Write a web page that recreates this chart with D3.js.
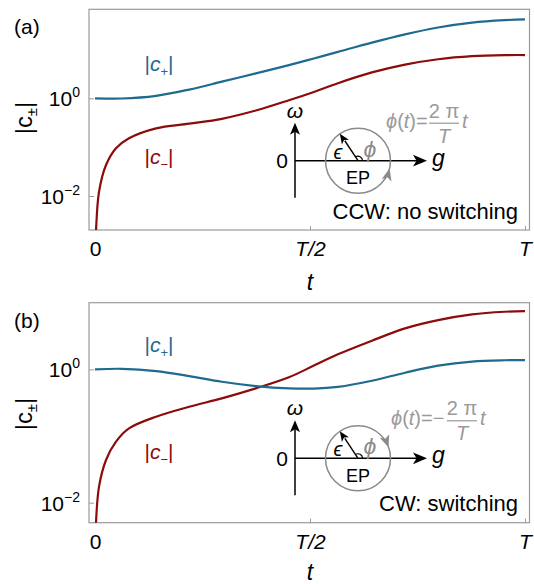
<!DOCTYPE html>
<html>
<head>
<meta charset="utf-8">
<script src="https://cdn.jsdelivr.net/npm/d3@7"></script>
<style>
  body { margin: 0; background: #fff; }
  svg text { font-family: "Liberation Sans", Arial, sans-serif; }
</style>
</head>
<body>
<script>
// t in units of T, values |c|
var tPlusA  = [0, 0.063, 0.142, 0.219, 0.295, 0.374, 0.451, 0.509, 0.565, 0.644, 0.721, 0.798, 0.877, 0.953, 1];
var cPlusA  = [1.0, 0.99, 1.12, 1.51, 2.19, 3.24, 4.79, 6.53, 8.91, 13.8, 20.4, 28.2, 35.5, 39.8, 41.2];
var tMinusA = [0.001, 0.0023, 0.0093, 0.0256, 0.0488, 0.079, 0.142, 0.219, 0.295, 0.374, 0.451, 0.509, 0.565, 0.644, 0.721, 0.798, 0.877, 0.953, 1];
var cMinusA = [0.0007, 0.0019, 0.0122, 0.0431, 0.0947, 0.152, 0.243, 0.302, 0.380, 0.562, 0.912, 1.35, 2.04, 3.39, 4.90, 6.31, 7.28, 7.66, 7.69];

var tPlusB  = [0, 0.063, 0.142, 0.219, 0.295, 0.374, 0.451, 0.509, 0.565, 0.644, 0.721, 0.798, 0.877, 0.953, 1];
var cPlusB  = [1.0, 1.02, 0.944, 0.794, 0.652, 0.562, 0.519, 0.515, 0.547, 0.676, 0.891, 1.135, 1.31, 1.37, 1.377];
var tMinusB = [0.001, 0.0023, 0.0093, 0.0256, 0.0488, 0.079, 0.142, 0.219, 0.295, 0.374, 0.451, 0.509, 0.565, 0.644, 0.721, 0.798, 0.877, 0.953, 1];
var cMinusB = [0.002, 0.0050, 0.0174, 0.0437, 0.0822, 0.130, 0.195, 0.275, 0.367, 0.519, 0.760, 1.14, 1.68, 2.69, 4.12, 5.48, 6.68, 7.31, 7.48];

var tTicks = [0, 0.5, 1];
var tTickLabels = ["0", "T/2", "T"];
var cTicks = [1, 0.01];
var cTickExp = ["0", "\u22122"];

var blue = "#1f6a8e", red = "#8c0b0b", gray = "#8a8a8a", frameCol = "#9a9a9a";

var svg = d3.select("body").append("svg")
  .attr("width", 534).attr("height", 584);

var defs = svg.append("defs");

function panel(o) {
  var x = d3.scaleLinear().domain([-0.014, 1.0105]).range([89, 529.5]);
  var y = d3.scaleLog().domain(o.ydom).range([o.bottom, o.top]);
  var g = svg.append("g");

  var clipId = "clip" + o.name;
  defs.append("clipPath").attr("id", clipId).append("rect")
    .attr("x", x.range()[0]).attr("y", o.top)
    .attr("width", x.range()[1] - x.range()[0]).attr("height", o.bottom - o.top);

  // frame
  g.append("rect")
    .attr("x", x.range()[0]).attr("y", o.top)
    .attr("width", x.range()[1] - x.range()[0]).attr("height", o.bottom - o.top)
    .attr("fill", "none").attr("stroke", frameCol).attr("stroke-width", 1.2);

  // bottom axis
  var xa = g.append("g").attr("transform", "translate(0," + o.bottom + ")")
    .call(d3.axisBottom(x).tickValues(tTicks).tickSizeInner(-4).tickSizeOuter(0)
      .tickFormat(function(d, i) { return tTickLabels[i]; }));
  xa.select(".domain").remove();
  xa.selectAll("line").attr("stroke", frameCol);
  xa.selectAll("text").attr("font-size", 21).attr("fill", "#000")
    .attr("font-style", function(d, i) { return i == 0 ? "normal" : "italic"; })
    .attr("y", 11).attr("dy", "0.71em");

  // left axis
  var ya = g.append("g").attr("transform", "translate(" + x.range()[0] + ",0)")
    .call(d3.axisLeft(y).tickValues(cTicks).tickSizeInner(-5).tickSizeOuter(0)
      .tickFormat(""));
  ya.select(".domain").remove();
  ya.selectAll("line").attr("stroke", frameCol);
  ya.selectAll(".tick").each(function(d, i) {
    var t = d3.select(this).append("text")
      .attr("x", -9).attr("dy", "0.36em").attr("text-anchor", "end")
      .attr("font-size", 21).attr("fill", "#000");
    t.append("tspan").text("10");
    t.append("tspan").attr("dy", -9).attr("font-size", 14).text(cTickExp[i]);
  });

  // curves
  var line = d3.line()
    .x(function(d) { return x(d[0]); })
    .y(function(d) { return y(d[1]); })
    .curve(d3.curveCatmullRom.alpha(0.5));
  var cg = g.append("g").attr("clip-path", "url(#" + clipId + ")");
  cg.append("path").datum(d3.zip(o.tMinus, o.cMinus))
    .attr("d", line).attr("fill", "none").attr("stroke", red).attr("stroke-width", 2.2);
  cg.append("path").datum(d3.zip(o.tPlus, o.cPlus))
    .attr("d", line).attr("fill", "none").attr("stroke", blue).attr("stroke-width", 2.2);

  // panel letter
  g.append("text").attr("x", 14).attr("y", o.top + 25).attr("font-size", 21).text(o.letter);

  // y label
  var yl = g.append("text")
    .attr("transform", "translate(" + 32 + "," + o.ylabY + ") rotate(-90)")
    .attr("text-anchor", "middle").attr("font-size", 24);
  yl.append("tspan").text("|c");
  yl.append("tspan").attr("dy", 5).attr("font-size", 15).text("\u00b1");
  yl.append("tspan").attr("dy", -5).text("|");

  // x label
  g.append("text").attr("x", x(0.5)).attr("y", o.xlabY)
    .attr("text-anchor", "middle").attr("font-size", 23).attr("font-style", "italic").text("t");

  // curve labels
  function clabel(cx, cy, sub, col) {
    var t = g.append("text").attr("x", cx).attr("y", cy).attr("text-anchor", "middle")
      .attr("font-size", 21).attr("fill", col);
    t.append("tspan").text("|");
    t.append("tspan").attr("font-style", "italic").text("c");
    t.append("tspan").attr("dy", 5).attr("font-size", 13).text(sub);
    t.append("tspan").attr("dy", -5).text("|");
  }
  clabel(159, o.plusLabY, "+", blue);
  clabel(159, o.minusLabY, "\u2212", red);

  // inset: EP loop sketch
  var ins = g.append("g").attr("transform", "translate(295," + o.insY + ")");
  function arrowHead(sel, tx, ty, ang, col, s) {
    sel.append("path")
      .attr("d", "M0,0 L" + (-s) + "," + (-s * 0.42) + " L" + (-s * 0.75) + ",0 L" + (-s) + "," + (s * 0.42) + "Z")
      .attr("transform", "translate(" + tx + "," + ty + ") rotate(" + ang + ")")
      .attr("fill", col);
  }
  ins.append("line").attr("x1", 0).attr("y1", 37).attr("x2", 0).attr("y2", -32)
    .attr("stroke", "#000").attr("stroke-width", 1.5);
  arrowHead(ins, 0, -38, -90, "#000", 12);
  ins.append("line").attr("x1", 0).attr("y1", 0).attr("x2", 126).attr("y2", 0)
    .attr("stroke", "#000").attr("stroke-width", 1.5);
  arrowHead(ins, 132, 0, 0, "#000", 14);
  ins.append("text").attr("x", 0).attr("y", -43).attr("text-anchor", "middle")
    .attr("font-size", 21).attr("font-style", "italic").text("\u03c9");
  ins.append("text").attr("x", -7).attr("y", 7.5).attr("text-anchor", "end")
    .attr("font-size", 21).text("0");
  ins.append("text").attr("x", 137).attr("y", 5).attr("font-size", 23)
    .attr("font-style", "italic").text("g");

  var cx0 = 63, r = 32.5;
  ins.append("circle").attr("cx", cx0).attr("cy", 0).attr("r", r)
    .attr("fill", "none").attr("stroke", gray).attr("stroke-width", 1.5);
  var a = 124 * Math.PI / 180;
  var ex = cx0 + r * Math.cos(a), ey = -r * Math.sin(a);
  ins.append("line").attr("x1", cx0).attr("y1", 0).attr("x2", ex + 5).attr("y2", ey + 7)
    .attr("stroke", "#000").attr("stroke-width", 1.4);
  arrowHead(ins, ex, ey, -a * 180 / Math.PI, "#000", 10);
  ins.append("path").attr("d", d3.arc()({innerRadius: 4.5, outerRadius: 4.5, startAngle: Math.PI / 2, endAngle: Math.PI / 2 - a}))
    .attr("transform", "translate(" + cx0 + ",0)")
    .attr("fill", "none").attr("stroke", "#000").attr("stroke-width", 1.2);
  ins.append("text").attr("x", cx0 - 20).attr("y", -2).attr("text-anchor", "middle")
    .attr("font-size", 20).attr("font-style", "italic").text("\u03f5");
  ins.append("text").attr("x", cx0 + 12).attr("y", -4).attr("text-anchor", "middle")
    .attr("font-size", 23).attr("font-style", "italic").attr("fill", gray).text("\u03d5");
  ins.append("text").attr("x", cx0).attr("y", 23.5).attr("text-anchor", "middle")
    .attr("font-size", 18).text("EP");
  // direction arrow on the loop
  var da = o.dirAng * Math.PI / 180;
  var hx = cx0 + r * Math.cos(da), hy = -r * Math.sin(da);
  var tang = o.ccw ? -(o.dirAng + 90) : -(o.dirAng - 90);
  arrowHead(ins, hx, hy, tang, gray, 12);

  // formula
  var f = ins.append("g").attr("fill", "#9a9a9a").attr("font-size", 20);
  var ft = f.append("text").attr("x", o.fx).attr("y", -33);
  ft.append("tspan").attr("font-style", "italic").text("\u03d5");
  ft.append("tspan").text("(");
  ft.append("tspan").attr("font-style", "italic").text("t");
  ft.append("tspan").text(")=" + (o.ccw ? "" : "\u2212"));
  var bx = o.fx + (o.ccw ? 43 : 56);
  f.append("text").attr("x", bx + 15).attr("y", -43).attr("text-anchor", "middle").text("2 \u03c0");
  f.append("line").attr("x1", bx).attr("x2", bx + 30).attr("y1", -37.5).attr("y2", -37.5)
    .attr("stroke", "#9a9a9a").attr("stroke-width", 1.2);
  f.append("text").attr("x", bx + 15).attr("y", -18).attr("text-anchor", "middle")
    .attr("font-style", "italic").text("T");
  f.append("text").attr("x", bx + 33).attr("y", -33).attr("font-style", "italic").text("t");

  g.append("text").attr("x", 518).attr("y", o.capY).attr("text-anchor", "end")
    .attr("font-size", 22).text(o.caption);
}

panel({
  name: "a", letter: "(a)", top: 9.3, bottom: 230, ydom: [Math.pow(10, -2.696), Math.pow(10, 1.822)],
  tPlus: tPlusA, cPlus: cPlusA, tMinus: tMinusA, cMinus: cMinusA,
  ylabY: 118, plusLabY: 71, minusLabY: 164, insY: 160.7, dirAng: -14, ccw: true, fx: 91,
  caption: "CCW: no switching", capY: 219, xlabY: 290
});
panel({
  name: "b", letter: "(b)", top: 302.7, bottom: 522.7, ydom: [Math.pow(10, -2.3), Math.pow(10, 1.0)],
  tPlus: tPlusB, cPlus: cPlusB, tMinus: tMinusB, cMinus: cMinusB,
  ylabY: 414, plusLabY: 352, minusLabY: 459, insY: 458.3, dirAng: 20, ccw: false, fx: 96,
  caption: "CW: switching", capY: 511, xlabY: 580
});
</script>
</body>
</html>
